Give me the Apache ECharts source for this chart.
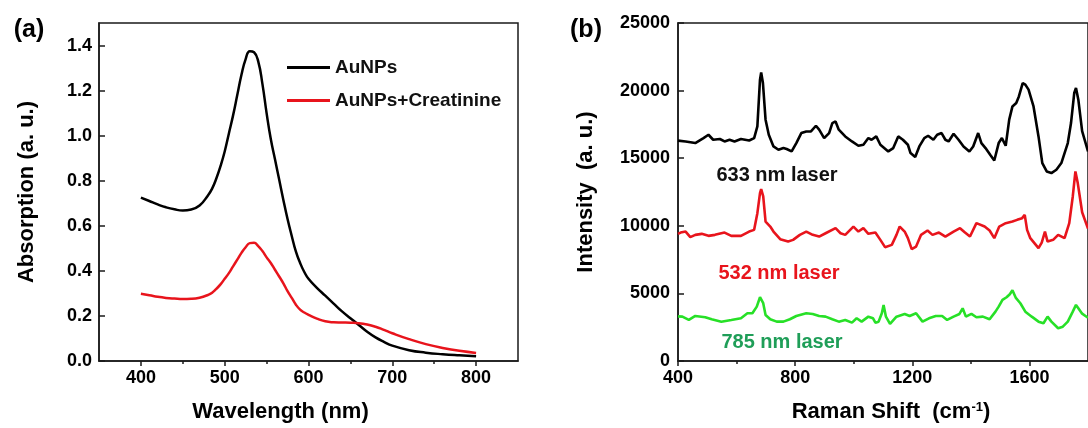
<!DOCTYPE html>
<html>
<head>
<meta charset="utf-8">
<script src="https://cdn.jsdelivr.net/npm/echarts@6/dist/echarts.min.js"></script>
<style>
  html, body { margin: 0; padding: 0; background: #fff; }
  #chart { width: 1088px; height: 428px; }
</style>
</head>
<body>
<div id="chart"></div>
<script>
// ---- Panel (a): UV-vis absorption ----
const wavelength = [400,410,420,430,440,450,460,470,480,485,490,495,500,505,510,515,520,525,530,535,540,545,550,555,560,565,570,575,580,585,590,595,600,610,620,630,640,650,660,670,680,690,700,720,740,760,780,800];
const absAuNPs = [0.725,0.71,0.695,0.682,0.673,0.668,0.672,0.69,0.735,0.765,0.81,0.865,0.93,1.01,1.09,1.18,1.27,1.34,1.375,1.37,1.33,1.23,1.1,0.985,0.895,0.805,0.715,0.63,0.555,0.485,0.435,0.395,0.365,0.325,0.29,0.255,0.22,0.19,0.16,0.13,0.105,0.085,0.068,0.048,0.037,0.03,0.025,0.021];
const absAuNPsCreatinine = [0.298,0.292,0.285,0.28,0.277,0.275,0.276,0.281,0.293,0.303,0.32,0.34,0.365,0.39,0.42,0.45,0.48,0.505,0.523,0.525,0.51,0.488,0.46,0.435,0.405,0.375,0.345,0.31,0.28,0.25,0.228,0.215,0.205,0.188,0.176,0.172,0.171,0.17,0.168,0.162,0.152,0.138,0.123,0.097,0.075,0.058,0.045,0.036];
const wavelengthTicks = [400,500,600,700,800];
const wavelengthMinorTicks = [450,550,650,750];
const absorptionTicks = [0,0.2,0.4,0.6,0.8,1.0,1.2,1.4];

// ---- Panel (b): Raman spectra ----
const shift633 = [400,426,459,487,504,520,543,559,576,593,615,643,660,671,680,684,690,699,710,726,743,760,771,788,804,821,838,854,871,882,899,916,927,938,949,971,994,1016,1033,1050,1061,1077,1091,1118,1135,1152,1168,1185,1194,1210,1224,1241,1254,1272,1285,1300,1313,1324,1341,1358,1375,1395,1408,1425,1436,1450,1466,1480,1495,1506,1519,1531,1542,1555,1564,1577,1586,1597,1614,1631,1644,1659,1675,1692,1709,1731,1742,1753,1759,1767,1780,1800];
const intensity633 = [16300,16240,16120,16490,16735,16365,16420,16240,16365,16240,16420,16310,16490,17350,20810,21350,20560,17850,16735,15870,15625,15750,15680,15500,16120,16860,16980,16980,17400,17110,16490,16860,17600,17720,17110,16610,16240,15920,15995,16490,16365,16610,15995,15500,15750,16610,16365,15995,15380,15085,15870,16490,16660,16365,16735,16860,16365,16240,16810,16365,15870,15500,15870,16860,16120,15750,15255,14830,16120,16490,15920,17850,18830,19085,19570,20560,20440,20070,18830,16610,14640,14020,13900,14145,14640,16120,17600,19820,20190,19330,17000,15500];
const shift532 = [400,409,426,442,459,481,504,526,559,582,615,643,660,671,680,684,691,699,715,726,749,776,793,816,838,860,882,904,938,955,971,999,1016,1033,1050,1074,1091,1107,1130,1146,1157,1174,1185,1198,1213,1230,1252,1269,1291,1313,1341,1363,1380,1397,1419,1447,1464,1480,1497,1519,1542,1558,1575,1584,1592,1603,1631,1642,1653,1662,1681,1698,1720,1736,1748,1757,1765,1780,1800];
const intensity532 = [9400,9500,9575,9160,9330,9405,9256,9330,9500,9256,9256,9575,9700,10935,12420,12715,12170,10315,9945,9575,9010,8835,8960,9330,9575,9330,9205,9450,9825,9450,9330,9945,9575,9825,9405,9500,8960,8420,8590,9330,9945,9575,9085,8270,8465,9330,9650,9330,9500,9205,9575,9825,9500,9205,10195,9945,9650,9085,9945,10195,10315,10440,10565,10810,9700,9085,8345,8760,9575,8835,8960,9330,9085,10195,12170,14020,13160,11000,9800];
const shift785 = [400,415,437,459,493,515,548,582,615,637,654,669,680,684,691,699,715,737,760,782,804,838,860,882,904,927,949,971,994,1010,1027,1050,1066,1074,1085,1096,1102,1110,1124,1146,1174,1191,1213,1235,1257,1280,1302,1319,1341,1361,1372,1383,1402,1419,1441,1464,1484,1495,1508,1522,1533,1542,1553,1569,1586,1608,1631,1648,1662,1675,1698,1714,1731,1748,1759,1767,1780,1800];
const intensity785 = [3300,3280,3036,3330,3236,3088,2910,3036,3160,3530,3530,4020,4717,4813,4273,3406,3088,2910,2910,3088,3330,3530,3480,3330,3280,3088,2910,3036,2836,3160,2910,3280,3160,2836,2910,3530,4147,3280,2740,3280,3480,3330,3530,2910,3160,3330,3330,3036,3280,3480,3900,3280,3480,3236,3280,3088,3650,4020,4517,4717,4940,5235,4690,4273,3650,3280,2910,2790,3280,2910,2420,2540,2910,3650,4147,3900,3500,3200];
const ramanTicks = [400,800,1200,1600];
const ramanMinorTicks = [600,1000,1400];

const pairs = (xs, ys) => xs.map((x, i) => [x, ys[i]]);

const FONT = '"Liberation Sans", Arial, sans-serif';
const AXIS_COLOR = '#1a1a1a';
const RED = '#e8141c';
const GREEN_LINE = '#27e027';
const GREEN_TEXT = '#1f9e58';

const tickLabel = { fontSize: 18, fontWeight: 'bold', color: '#000', fontFamily: FONT };
const axisTitle = { fontSize: 22, fontWeight: 'bold', color: '#000', fontFamily: FONT };
const plain = v => String(v);

function mainX(grid, min, max, ticks, name, nameStyle) {
  return {
    gridIndex: grid, type: 'value', min, max,
    axisLine: { onZero: false, lineStyle: { color: AXIS_COLOR, width: 1.5 } },
    axisTick: { customValues: ticks, length: 5, lineStyle: { color: AXIS_COLOR, width: 1.5 } },
    axisLabel: Object.assign({ customValues: ticks, margin: 8, formatter: plain }, tickLabel),
    splitLine: { show: false },
    name, nameLocation: 'middle', nameGap: 40,
    nameTextStyle: nameStyle
  };
}
function minorX(grid, min, max, ticks) {
  return {
    gridIndex: grid, type: 'value', min, max, position: 'bottom',
    axisLine: { show: false },
    axisTick: { customValues: ticks, length: 3, lineStyle: { color: AXIS_COLOR, width: 1.5 } },
    axisLabel: { show: false },
    splitLine: { show: false }
  };
}

const chart = echarts.init(document.getElementById('chart'), null, { renderer: 'canvas' });
chart.setOption({
  animation: false,
  backgroundColor: '#fff',
  grid: [
    { left: 99, top: 23, width: 419, height: 338, show: true, borderColor: AXIS_COLOR, borderWidth: 1.5 },
    { left: 678, top: 23, width: 419, height: 338, show: true, borderColor: AXIS_COLOR, borderWidth: 1.5 }
  ],
  xAxis: [
    mainX(0, 350, 850, wavelengthTicks, 'Wavelength (nm)', Object.assign({ padding: [0, 56, 0, 0] }, axisTitle)),
    minorX(0, 350, 850, wavelengthMinorTicks),
    mainX(1, 400, 1800, ramanTicks, 'Raman Shift  (cm{sup|-1})', Object.assign({
      padding: [0, 0, 0, 16],
      rich: { sup: { fontSize: 13, fontWeight: 'bold', color: '#000', fontFamily: FONT, verticalAlign: 'top', lineHeight: 16 } }
    }, axisTitle)),
    minorX(1, 400, 1800, ramanMinorTicks)
  ],
  yAxis: [
    {
      gridIndex: 0, type: 'value', min: 0, max: 1.5,
      axisLine: { lineStyle: { color: AXIS_COLOR, width: 1.5 } },
      axisTick: { customValues: absorptionTicks, inside: true, length: 6, lineStyle: { color: AXIS_COLOR, width: 1.5 } },
      axisLabel: Object.assign({ customValues: absorptionTicks, margin: 7, formatter: v => v.toFixed(1) }, tickLabel),
      splitLine: { show: false },
      name: 'Absorption (a. u.)', nameLocation: 'middle', nameGap: 61, nameTextStyle: axisTitle
    },
    {
      gridIndex: 1, type: 'value', min: 0, max: 25000, interval: 5000,
      axisLine: { lineStyle: { color: AXIS_COLOR, width: 1.5 } },
      axisTick: { inside: true, length: 6, lineStyle: { color: AXIS_COLOR, width: 1.5 } },
      axisLabel: Object.assign({ margin: 8, formatter: plain }, tickLabel),
      splitLine: { show: false },
      name: 'Intensity  (a. u.)', nameLocation: 'middle', nameGap: 81, nameTextStyle: axisTitle
    }
  ],
  legend: {
    data: ['AuNPs', 'AuNPs+Creatinine'],
    orient: 'vertical', left: 282, top: 53,
    icon: 'rect', itemWidth: 43, itemHeight: 3, itemGap: 14,
    textStyle: { fontSize: 19, fontWeight: 'bold', color: '#111', fontFamily: FONT }
  },
  series: [
    { name: 'AuNPs', type: 'line', xAxisIndex: 0, yAxisIndex: 0, data: pairs(wavelength, absAuNPs),
      smooth: 0.5, showSymbol: false, color: '#000', lineStyle: { width: 2.5 } },
    { name: 'AuNPs+Creatinine', type: 'line', xAxisIndex: 0, yAxisIndex: 0, data: pairs(wavelength, absAuNPsCreatinine),
      smooth: 0.5, showSymbol: false, color: RED, lineStyle: { width: 2.5 } },
    { name: '633 nm laser', type: 'line', xAxisIndex: 2, yAxisIndex: 1, data: pairs(shift633, intensity633),
      showSymbol: false, color: '#000', lineStyle: { width: 2.6 } },
    { name: '532 nm laser', type: 'line', xAxisIndex: 2, yAxisIndex: 1, data: pairs(shift532, intensity532),
      showSymbol: false, color: RED, lineStyle: { width: 2.6 } },
    { name: '785 nm laser', type: 'line', xAxisIndex: 2, yAxisIndex: 1, data: pairs(shift785, intensity785),
      showSymbol: false, color: GREEN_LINE, lineStyle: { width: 2.6 } }
  ],
  graphic: [
    { type: 'text', x: 29, y: 30, style: { text: '(a)', font: 'bold 25px ' + FONT, fill: '#000', align: 'center', verticalAlign: 'middle' } },
    { type: 'text', x: 586, y: 30, style: { text: '(b)', font: 'bold 25px ' + FONT, fill: '#000', align: 'center', verticalAlign: 'middle' } },
    { type: 'text', x: 777, y: 175, style: { text: '633 nm laser', font: 'bold 20px ' + FONT, fill: '#111', align: 'center', verticalAlign: 'middle' } },
    { type: 'text', x: 779, y: 273, style: { text: '532 nm laser', font: 'bold 20px ' + FONT, fill: RED, align: 'center', verticalAlign: 'middle' } },
    { type: 'text', x: 782, y: 342, style: { text: '785 nm laser', font: 'bold 20px ' + FONT, fill: GREEN_TEXT, align: 'center', verticalAlign: 'middle' } }
  ]
});
</script>
</body>
</html>
